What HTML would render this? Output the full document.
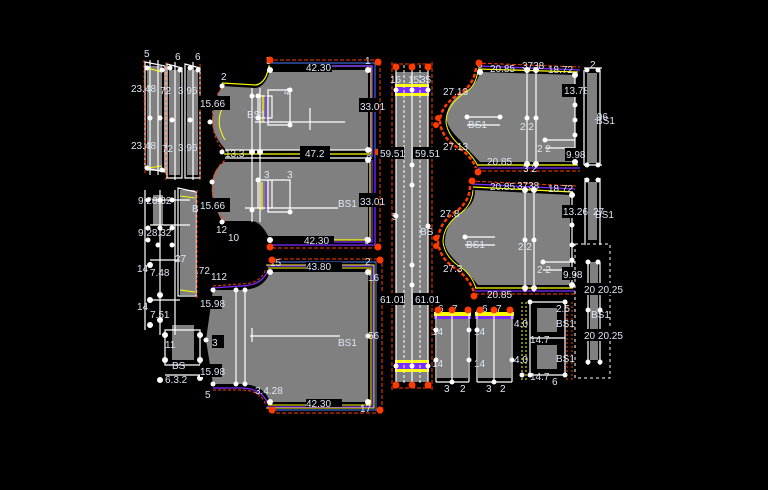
<!DOCTYPE html>
<html><head><meta charset="utf-8"><style>
html,body{margin:0;padding:0;background:#000;}
svg{display:block}
text{font-family:"Liberation Sans",sans-serif;fill:#dde6f5;font-size:10px}
.lb{fill:#000}
</style></head><body>
<svg width="768" height="490" viewBox="0 0 768 490" xmlns="http://www.w3.org/2000/svg">
<rect width="768" height="490" fill="#000"/>

<!-- LEFT STRIPS -->
<g fill="#808080">
<rect x="147" y="66" width="15" height="105"/>
<rect x="169" y="70" width="11" height="105"/>
<rect x="187" y="70" width="11" height="105"/>
<rect x="180" y="190" width="15" height="105"/>
<rect x="153" y="195" width="10" height="30"/>
<rect x="172" y="325" width="22" height="35"/>
</g>
<g stroke="#fff" stroke-width="1.2" fill="none">
<path d="M145,62 L165,66 L165,172 L145,168 Z"/>
<path d="M167,64 L182,68 L182,178 L167,178 Z M185,64 L200,68 L200,178 L185,178 Z"/>
<path d="M178,188 L196,192 L196,296 L178,296 Z"/>
<path d="M150,60 V175 M158,60 V175 M175,62 V180 M193,62 V180"/>
<path d="M145,190 V330 M160,190 V335 M175,190 V335 M152,200 H190 M150,225 H190 M150,260 H180 M150,300 H180"/>
<path d="M165,330 H200 V365 H165 Z M165,375 H200"/>
</g>
<g stroke="#ffff00" stroke-width="1" fill="none"><path d="M147,68 L162,72 M147,168 L162,166 M180,196 L195,198 M180,290 L195,292"/></g>
<g stroke="#ff3b00" stroke-width="1" fill="none" stroke-dasharray="3,2"><path d="M144,60 L145,175 M166,62 V180 M200,64 V180 M197,190 V298"/></g>
<g fill="#fff">
<circle cx="147" cy="68" r="2.5"/><circle cx="162" cy="70" r="2.5"/><circle cx="147" cy="168" r="2.5"/><circle cx="162" cy="170" r="2.5"/>
<circle cx="170" cy="68" r="2.5"/><circle cx="180" cy="70" r="2.5"/><circle cx="190" cy="68" r="2.5"/><circle cx="198" cy="70" r="2.5"/>
<circle cx="150" cy="118" r="2.5"/><circle cx="160" cy="118" r="2.5"/><circle cx="172" cy="120" r="2.5"/><circle cx="190" cy="120" r="2.5"/>
<circle cx="148" cy="200" r="2.5"/><circle cx="160" cy="200" r="2.5"/><circle cx="172" cy="200" r="2.5"/><circle cx="148" cy="228" r="2.5"/><circle cx="160" cy="228" r="2.5"/><circle cx="172" cy="228" r="2.5"/>
<circle cx="150" cy="265" r="3"/><circle cx="160" cy="295" r="3"/><circle cx="150" cy="300" r="3"/><circle cx="160" cy="320" r="3"/><circle cx="150" cy="325" r="3"/>
<circle cx="165" cy="335" r="3"/><circle cx="200" cy="335" r="3"/><circle cx="165" cy="360" r="3"/><circle cx="200" cy="360" r="3"/><circle cx="160" cy="380" r="3"/><circle cx="200" cy="378" r="3"/>
<circle cx="148" cy="240" r="2.5"/><circle cx="158" cy="245" r="2.5"/><circle cx="172" cy="245" r="2.5"/>
</g>
<text x="144" y="57">5</text><text x="175" y="60">6</text><text x="195" y="60">6</text>
<text x="131" y="92">23.48</text><text x="160" y="94">72</text><text x="178" y="94">3.96</text>
<text x="131" y="149">23.48</text><text x="162" y="152">72</text><text x="178" y="151">3.96</text>
<text x="138" y="204">9.28.32</text><text x="138" y="236">9.28.32</text><text x="192" y="212">BS</text>
<text x="137" y="272">14</text><text x="150" y="276">7.48</text><text x="196" y="274">.72</text>
<text x="137" y="310">14</text><text x="150" y="318">7.51</text><text x="175" y="262">27</text>
<text x="165" y="348">11</text><text x="165" y="383">6.3.2</text><text x="172" y="369">BS</text>

<!-- PIECE A -->
<path d="M222,86 L256,88 Q266,86 270,70 L368,70 L368,150 L226,150 Q212,135 212,120 Q214,100 222,86 Z" fill="#808080"/>
<path d="M222,83 L256,85 Q266,83 269,66 L371,66 L371,154 L224,154" fill="none" stroke="#ffff00" stroke-width="1.2"/>
<path d="M272,66 L372,66 L372,157" fill="none" stroke="#7b2cff" stroke-width="1.5"/>
<path d="M270,63 L375,63 L375,158" fill="none" stroke="#4a7bff" stroke-width="1"/>
<path d="M268,60 L380,60 L380,160" fill="none" stroke="#ff3b00" stroke-width="1" stroke-dasharray="4,2"/>
<path d="M228,100 Q212,118 225,140" fill="none" stroke="#ffff00" stroke-width="1"/>
<path d="M225,84 Q210,100 213,120 Q212,138 225,152" fill="none" stroke="#ff3b00" stroke-width="1" stroke-dasharray="3,2"/>
<!-- PIECE B -->
<path d="M224,162 L368,162 L368,240 L270,240 Q262,222 252,221 L222,221 Q210,200 212,185 Q212,170 224,162 Z" fill="#808080"/>
<path d="M372,160 L372,242 L268,242 M375,158 L375,245 L268,245" fill="none" stroke="#7b2cff" stroke-width="1.3"/>
<path d="M370,162 L370,240 L270,240" fill="none" stroke="#ffff00" stroke-width="1.2"/>
<path d="M380,160 L380,248 L268,248" fill="none" stroke="#ff3b00" stroke-width="1" stroke-dasharray="4,2"/>
<path d="M225,222 Q210,200 213,185 Q213,170 225,160" fill="none" stroke="#ff3b00" stroke-width="1" stroke-dasharray="3,2"/>
<!-- A/B shared lines -->
<g stroke="#fff" stroke-width="1.2" fill="none">
<path d="M252,88 V222 M260,88 V222 M225,150 H372 M225,158 H372"/>
<path d="M258,96 H272 V118 H258 Z M268,90 H290 V125 H268 Z M258,180 H272 V208 H258 Z M268,180 H290 V212 H268 Z"/>
<path d="M255,122 H345 M310,108 V130 M245,208 H338"/>
</g>
<g stroke="#ffff00" stroke-width="1.2" fill="none"><path d="M263,95 V122 M262,182 V210"/></g>
<g stroke="#7b2cff" stroke-width="1.2" fill="none"><path d="M266,95 V122 M266,182 V210"/></g>
<g fill="#000"><rect x="270" y="64" width="62" height="8"/><rect x="359" y="98" width="18" height="14"/><rect x="359" y="193" width="18" height="14"/><rect x="268" y="236" width="66" height="8"/><rect x="300" y="146" width="30" height="14"/><rect x="198" y="96" width="32" height="14"/><rect x="198" y="198" width="32" height="14"/></g>
<text x="306" y="71">42.30</text><text x="360" y="110">33.01</text><text x="360" y="205">33.01</text><text x="304" y="244">42.30</text><text x="305" y="157">47.2</text>
<text x="200" y="107">15.66</text><text x="200" y="209">15.66</text><text x="247" y="118">BS1</text><text x="338" y="207">BS1</text><text x="225" y="157">13.3</text>
<text x="221" y="80">2</text><text x="266" y="64">5</text><text x="365" y="64">1</text><text x="284" y="95">4</text><text x="264" y="178">3</text><text x="287" y="178">3</text><text x="228" y="241">10</text><text x="364" y="244">9</text><text x="216" y="233">12</text><text x="366" y="162">8</text>
<g fill="#fff"><circle cx="222" cy="86" r="2.5"/><circle cx="270" cy="70" r="3"/><circle cx="368" cy="70" r="3"/><circle cx="368" cy="150" r="3"/><circle cx="368" cy="160" r="3"/><circle cx="252" cy="152" r="3"/><circle cx="260" cy="152" r="3"/><circle cx="210" cy="122" r="2.5"/><circle cx="222" cy="152" r="2.5"/><circle cx="212" cy="182" r="2.5"/><circle cx="222" cy="222" r="2.5"/><circle cx="270" cy="240" r="3"/><circle cx="368" cy="240" r="3"/><circle cx="258" cy="96" r="2.5"/><circle cx="258" cy="118" r="2.5"/><circle cx="290" cy="90" r="2.5"/><circle cx="290" cy="125" r="2.5"/><circle cx="258" cy="180" r="2.5"/><circle cx="290" cy="212" r="2.5"/><circle cx="252" cy="96" r="2.5"/><circle cx="252" cy="210" r="2.5"/></g>
<g fill="#ff3b00"><circle cx="270" cy="60" r="3.5"/><circle cx="378" cy="62" r="3.5"/><circle cx="378" cy="152" r="3.5"/><circle cx="270" cy="247" r="3.5"/><circle cx="378" cy="247" r="3.5"/></g>

<!-- PIECE C -->
<path d="M270,272 L368,272 L368,402 L270,402 Q264,384 240,384 L213,384 L206,340 L213,290 L240,290 Q264,290 270,272 Z" fill="#808080"/>
<path d="M268,268 L371,268 L371,405 L268,405 M266,265 L374,265 L374,408 L266,408" fill="none" stroke="#ffff00" stroke-width="1"/>
<path d="M267,266 L373,266 L373,407 L267,407" fill="none" stroke="#7b2cff" stroke-width="1.3"/>
<path d="M270,262 L376,262 L376,410 L270,410" fill="none" stroke="#4a7bff" stroke-width="1"/>
<path d="M272,259 L382,259 L382,413 L272,413" fill="none" stroke="#ff3b00" stroke-width="1" stroke-dasharray="4,2"/>
<path d="M213,288 L240,286 Q262,286 268,270 M213,388 L240,388 Q262,388 268,404" fill="none" stroke="#7b2cff" stroke-width="1.3"/>
<path d="M213,286 L240,284 Q262,284 266,268 M213,390 L240,390 Q262,390 266,406" fill="none" stroke="#ff3b00" stroke-width="1" stroke-dasharray="3,2"/>
<g stroke="#fff" stroke-width="1.2" fill="none"><path d="M236,290 V384 M245,290 V384 M250,336 H340 M252,328 V342"/></g>
<g fill="#000"><rect x="306" y="262" width="36" height="8"/><rect x="306" y="399" width="36" height="8"/><rect x="200" y="296" width="22" height="13"/><rect x="200" y="364" width="22" height="13"/><rect x="212" y="335" width="12" height="13"/></g>
<text x="306" y="270">43.80</text><text x="306" y="407">42.30</text><text x="338" y="346">BS1</text><text x="368" y="339">56</text><text x="368" y="281">16</text>
<text x="200" y="307">15.98</text><text x="200" y="375">15.98</text><text x="211" y="280">112</text><text x="270" y="266">15</text><text x="365" y="265">2</text><text x="255" y="394">3.4.28</text><text x="360" y="412">17</text><text x="205" y="398">5</text><text x="212" y="346">3</text>
<g fill="#fff"><circle cx="213" cy="290" r="2.5"/><circle cx="236" cy="290" r="2.5"/><circle cx="245" cy="290" r="2.5"/><circle cx="213" cy="384" r="2.5"/><circle cx="236" cy="384" r="2.5"/><circle cx="245" cy="384" r="2.5"/><circle cx="270" cy="272" r="3"/><circle cx="368" cy="272" r="3"/><circle cx="368" cy="402" r="3"/><circle cx="270" cy="402" r="3"/><circle cx="368" cy="336" r="2.5"/><circle cx="206" cy="340" r="2.5"/></g>
<g fill="#ff3b00"><circle cx="272" cy="260" r="3.5"/><circle cx="380" cy="260" r="3.5"/><circle cx="380" cy="410" r="3.5"/><circle cx="272" cy="410" r="3.5"/></g>

<!-- VERTICAL STRIP -->
<rect x="396" y="72" width="32" height="310" fill="#808080"/>
<rect x="395" y="84" width="34" height="12" fill="#ffff00"/>
<rect x="395" y="87" width="34" height="6" fill="#7b2cff"/>
<rect x="395" y="360" width="34" height="12" fill="#ffff00"/>
<rect x="395" y="363" width="34" height="6" fill="#7b2cff"/>
<g stroke="#fff" stroke-width="1.2" fill="none"><path d="M396,65 V385 M412,65 V385 M428,65 V385"/></g>
<g stroke="#ff3b00" stroke-width="1" fill="none" stroke-dasharray="4,2"><path d="M392,62 V390 M432,62 V390 M393,64 H431 M393,388 H431"/></g>
<g stroke="#fff" stroke-width="1" fill="none" stroke-dasharray="3,2"><path d="M404,65 V385 M420,65 V385"/></g>
<g fill="#000"><rect x="378" y="147" width="26" height="12"/><rect x="413" y="147" width="26" height="12"/><rect x="378" y="293" width="26" height="12"/><rect x="413" y="293" width="26" height="12"/></g>
<text x="380" y="157">59.51</text><text x="415" y="157">59.51</text><text x="380" y="303">61.01</text><text x="415" y="303">61.01</text>
<text x="390" y="83">16</text><text x="408" y="83">15</text><text x="420" y="83">35</text><text x="392" y="220">5</text><text x="420" y="235">BS</text>
<g fill="#fff"><circle cx="396" cy="90" r="2.5"/><circle cx="412" cy="90" r="2.5"/><circle cx="428" cy="90" r="2.5"/><circle cx="396" cy="366" r="2.5"/><circle cx="412" cy="366" r="2.5"/><circle cx="428" cy="366" r="2.5"/><circle cx="412" cy="165" r="2.5"/><circle cx="412" cy="185" r="2.5"/><circle cx="396" cy="216" r="2.5"/><circle cx="428" cy="226" r="2.5"/><circle cx="412" cy="265" r="2.5"/><circle cx="412" cy="285" r="2.5"/></g>
<g fill="#ff3b00"><circle cx="396" cy="67" r="3.5"/><circle cx="412" cy="67" r="3.5"/><circle cx="428" cy="67" r="3.5"/><circle cx="396" cy="385" r="3.5"/><circle cx="412" cy="385" r="3.5"/><circle cx="428" cy="385" r="3.5"/></g>

<!-- RIGHT PIECE D -->
<path d="M480,72 L575,75 L575,162 L480,162 Q470,152 460,140 Q443,124 447,112 Q452,96 468,90 Q478,82 480,72 Z" fill="#808080"/>
<path d="M478,69 L578,72 M478,165 L578,165" fill="none" stroke="#ffff00" stroke-width="1.2"/>
<path d="M478,66 L580,70 M478,168 L580,168" fill="none" stroke="#7b2cff" stroke-width="1.3"/>
<path d="M476,63 L580,67 M476,171 L580,171" fill="none" stroke="#ff3b00" stroke-width="1" stroke-dasharray="4,2"/>
<path d="M476,68 Q474,84 462,92 Q440,105 440,122 Q442,140 462,150 Q472,158 476,168" fill="none" stroke="#ff3b00" stroke-width="2.5" stroke-dasharray="4,2"/>
<path d="M478,70 Q476,86 466,92 Q446,105 446,122 Q448,138 466,150 Q474,158 478,166" fill="none" stroke="#ffff00" stroke-width="1"/>
<!-- RIGHT PIECE E -->
<path d="M475,190 L570,195 L570,285 L478,285 Q470,275 460,265 Q443,250 445,240 Q446,222 462,212 Q475,205 475,190 Z" fill="#808080"/>
<path d="M473,187 L573,192 M475,288 L573,288" fill="none" stroke="#ffff00" stroke-width="1.2"/>
<path d="M472,184 L575,189 M475,291 L575,291" fill="none" stroke="#7b2cff" stroke-width="1.3"/>
<path d="M470,181 L576,186 M475,294 L576,294" fill="none" stroke="#ff3b00" stroke-width="1" stroke-dasharray="4,2"/>
<path d="M470,186 Q470,200 458,210 Q438,222 438,242 Q440,260 458,270 Q470,280 474,292" fill="none" stroke="#ff3b00" stroke-width="2.5" stroke-dasharray="4,2"/>
<path d="M473,190 Q472,204 462,212 Q443,225 443,242 Q445,258 462,268 Q472,276 476,288" fill="none" stroke="#ffff00" stroke-width="1"/>
<g stroke="#fff" stroke-width="1.2" fill="none">
<path d="M527,68 V168 M536,68 V168 M467,117 H500 M467,125 H500 M545,140 H575 M545,148 H575 M575,75 V165"/>
<path d="M525,188 V292 M534,188 V292 M465,237 H495 M465,245 H495 M543,262 H575 M543,270 H575 M572,195 V288"/>
</g>
<g fill="#000"><rect x="562" y="84" width="28" height="13"/><rect x="565" y="148" width="22" height="13"/><rect x="562" y="205" width="22" height="13"/><rect x="562" y="267" width="22" height="13"/></g>
<text x="564" y="94">13.78</text><text x="566" y="158">9.98</text><text x="563" y="215">13.26</text><text x="563" y="278">9.98</text>
<text x="477" y="68">6</text><text x="490" y="72">20.85</text><text x="522" y="69">3738</text><text x="548" y="73">18.72</text>
<text x="490" y="190">20.85</text><text x="517" y="189">3738</text><text x="548" y="192">18.72</text>
<text x="443" y="95">27.13</text><text x="443" y="150">27.13</text><text x="440" y="217">27.8</text><text x="443" y="272">27.3</text>
<text x="468" y="128">BS1</text><text x="466" y="248">BS1</text><text x="520" y="130">2 2</text><text x="518" y="250">2 2</text><text x="537" y="152">2 2</text><text x="537" y="273">2 2</text>
<text x="487" y="165">20.85</text><text x="487" y="298">20.85</text><text x="523" y="172">3 2</text>
<g fill="#fff"><circle cx="480" cy="72" r="3"/><circle cx="527" cy="70" r="3"/><circle cx="536" cy="70" r="3"/><circle cx="575" cy="75" r="3"/><circle cx="575" cy="162" r="3"/><circle cx="527" cy="164" r="3"/><circle cx="536" cy="164" r="3"/><circle cx="527" cy="118" r="2.5"/><circle cx="536" cy="118" r="2.5"/><circle cx="575" cy="105" r="2.5"/><circle cx="575" cy="120" r="2.5"/><circle cx="575" cy="135" r="2.5"/><circle cx="467" cy="117" r="2.5"/><circle cx="500" cy="117" r="2.5"/><circle cx="545" cy="140" r="2.5"/>
<circle cx="525" cy="190" r="3"/><circle cx="534" cy="190" r="3"/><circle cx="572" cy="195" r="3"/><circle cx="572" cy="285" r="3"/><circle cx="525" cy="288" r="3"/><circle cx="534" cy="288" r="3"/><circle cx="525" cy="240" r="2.5"/><circle cx="534" cy="240" r="2.5"/><circle cx="572" cy="225" r="2.5"/><circle cx="572" cy="245" r="2.5"/><circle cx="572" cy="260" r="2.5"/><circle cx="465" cy="237" r="2.5"/><circle cx="543" cy="262" r="2.5"/></g>
<g fill="#ff3b00"><circle cx="479" cy="63" r="3.5"/><circle cx="478" cy="172" r="3.5"/><circle cx="472" cy="181" r="3.5"/><circle cx="474" cy="296" r="3.5"/><circle cx="438" cy="118" r="3"/><circle cx="436" cy="125" r="3"/><circle cx="436" cy="238" r="3"/><circle cx="436" cy="246" r="3"/></g>

<!-- RIGHT COLUMN -->
<rect x="587" y="73" width="10" height="90" fill="#808080"/>
<rect x="588" y="182" width="9" height="58" fill="#808080"/>
<rect x="590" y="262" width="8" height="98" fill="#808080"/>
<g stroke="#fff" stroke-width="1.2" fill="none"><path d="M584,68 H602 M584,70 V165 M600,70 V165 M584,165 H602 M585,178 V245 M600,178 V245 M588,262 V365 M600,262 V365"/></g>
<g stroke="#fff" stroke-width="1" fill="none" stroke-dasharray="3,3"><path d="M575,244 H610 V378 H575 Z"/></g>
<g fill="#000"><rect x="583" y="283" width="30" height="12"/><rect x="583" y="329" width="30" height="12"/></g>
<text x="584" y="293">20 20.25</text><text x="584" y="339">20 20.25</text><text x="596" y="124">BS1</text><text x="595" y="218">BS1</text><text x="591" y="318">BS1</text><text x="590" y="68">2</text><text x="594" y="120">.96</text><text x="593" y="215">27</text>
<g fill="#fff"><circle cx="587" cy="70" r="2.5"/><circle cx="598" cy="70" r="2.5"/><circle cx="587" cy="165" r="2.5"/><circle cx="598" cy="165" r="2.5"/><circle cx="587" cy="180" r="2.5"/><circle cx="598" cy="180" r="2.5"/><circle cx="588" cy="262" r="2.5"/><circle cx="598" cy="262" r="2.5"/><circle cx="588" cy="310" r="2.5"/><circle cx="600" cy="310" r="2.5"/><circle cx="588" cy="362" r="2.5"/><circle cx="600" cy="362" r="2.5"/></g>

<!-- BOTTOM SMALL PIECES -->
<rect x="437" y="318" width="31" height="60" fill="#808080"/>
<rect x="478" y="318" width="33" height="60" fill="#808080"/>
<rect x="537" y="308" width="20" height="24" fill="#808080"/>
<rect x="537" y="345" width="20" height="24" fill="#808080"/>
<g fill="#ffff00"><rect x="434" y="312" width="37" height="4"/><rect x="475" y="312" width="39" height="4"/></g>
<g fill="#7b2cff"><rect x="434" y="316" width="37" height="3"/><rect x="475" y="316" width="39" height="3"/></g>
<g stroke="#fff" stroke-width="1.2" fill="none"><path d="M436,310 V382 M452,310 V382 M469,310 V382 M477,310 V382 M494,310 V382 M512,310 V382 M436,382 H469 M477,382 H512"/><path d="M530,302 H565 V375 H530 Z M530,338 H565"/></g>
<g stroke="#ffff00" stroke-width="1" fill="none" stroke-dasharray="2,2"><path d="M522,302 V380 M526,302 V380"/></g>
<g stroke="#ff3b00" stroke-width="1" fill="none" stroke-dasharray="2,2"><path d="M567,302 V380 M572,302 V380"/></g>
<text x="438" y="312">6</text><text x="452" y="312">7</text><text x="482" y="312">6</text><text x="496" y="312">7</text><text x="432" y="335">14</text><text x="432" y="367">14</text><text x="474" y="335">14</text><text x="474" y="367">14</text>
<text x="444" y="392">3</text><text x="460" y="392">2</text><text x="486" y="392">3</text><text x="500" y="392">2</text><text x="514" y="327">4.0</text><text x="514" y="363">4.0</text><text x="530" y="343">14.7</text><text x="530" y="380">14.7</text><text x="556" y="312">2.5</text><text x="556" y="327">BS1</text><text x="556" y="362">BS1</text><text x="552" y="385">6</text>
<g fill="#fff"><circle cx="436" cy="330" r="2.5"/><circle cx="436" cy="360" r="2.5"/><circle cx="469" cy="330" r="2.5"/><circle cx="469" cy="360" r="2.5"/><circle cx="477" cy="330" r="2.5"/><circle cx="512" cy="360" r="2.5"/><circle cx="452" cy="382" r="2.5"/><circle cx="494" cy="382" r="2.5"/><circle cx="530" cy="302" r="2.5"/><circle cx="565" cy="302" r="2.5"/><circle cx="530" cy="375" r="2.5"/><circle cx="565" cy="375" r="2.5"/><circle cx="522" cy="375" r="2.5"/></g>
<g fill="#ff3b00"><circle cx="438" cy="310" r="3.5"/><circle cx="452" cy="310" r="3.5"/><circle cx="468" cy="310" r="3.5"/><circle cx="480" cy="310" r="3.5"/><circle cx="494" cy="310" r="3.5"/><circle cx="510" cy="310" r="3.5"/></g>
</svg>
</body></html>
